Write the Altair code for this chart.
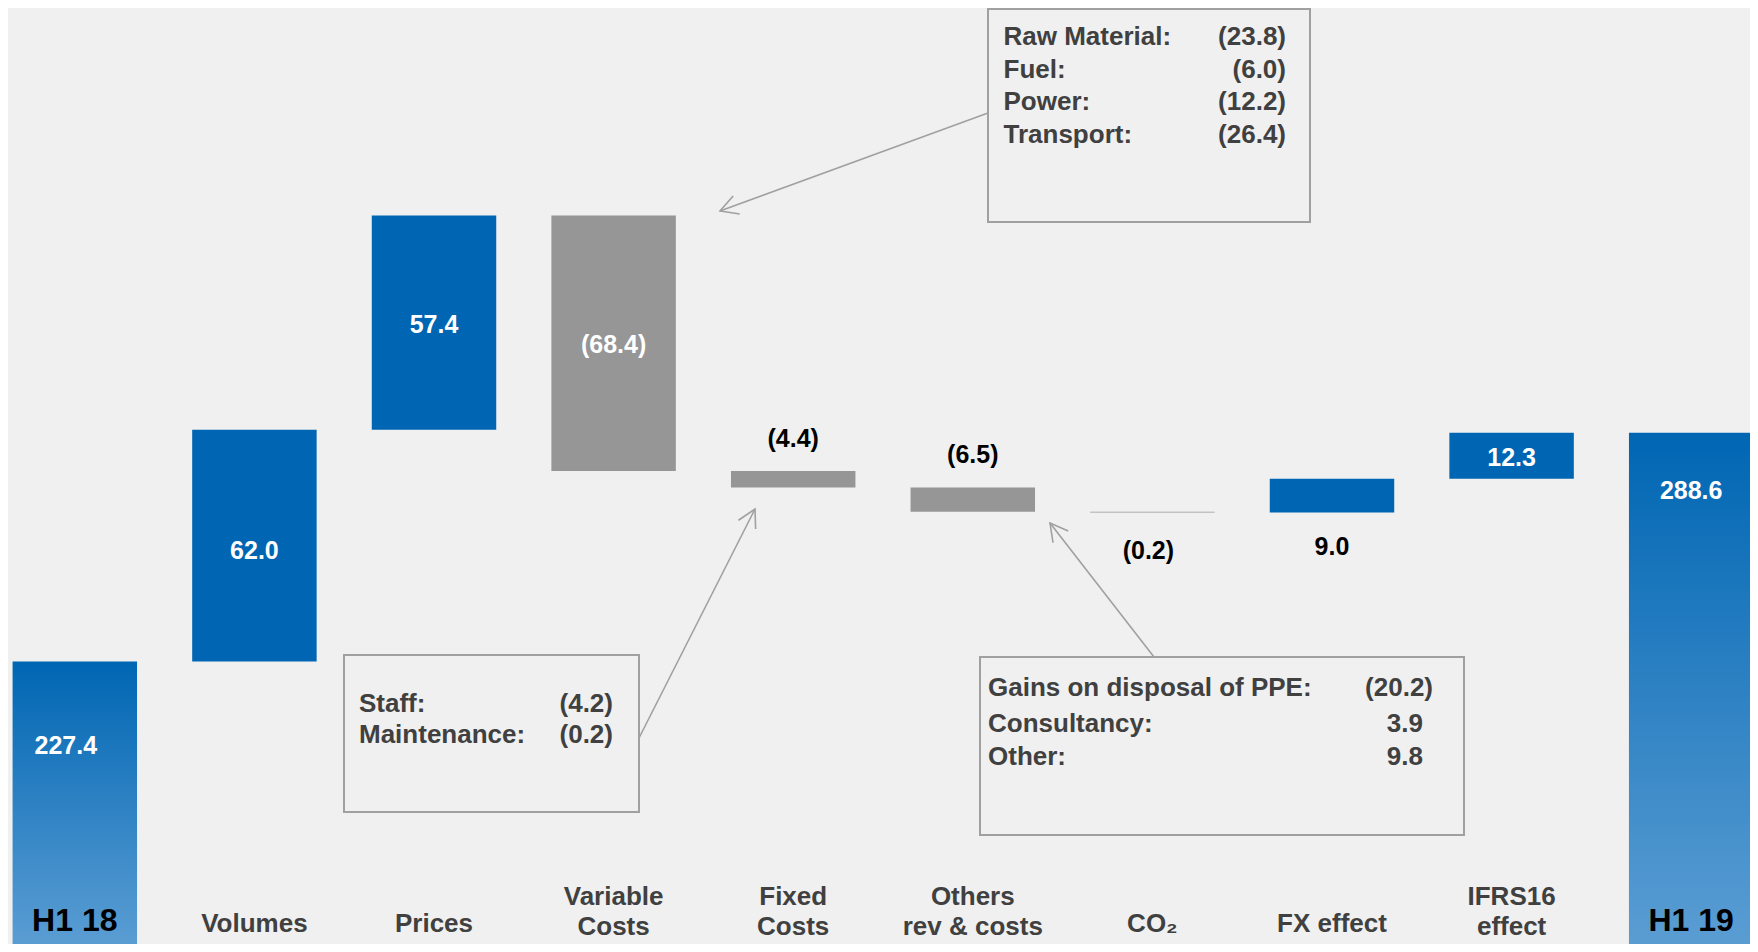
import altair as alt
import pandas as pd

# ---------------- data ----------------
categories = ["H1 18", "Volumes", "Prices", "Variable Costs", "Fixed Costs",
              "Others rev & costs", "CO2", "FX effect", "IFRS16 effect", "H1 19"]
axis_labels = ["H1 18", "Volumes", "Prices", "Variable\nCosts", "Fixed\nCosts",
               "Others\nrev & costs", "CO₂", "FX effect", "IFRS16\neffect", "H1 19"]
values = [227.4, 62.0, 57.4, -68.4, -4.4, -6.5, -0.2, 9.0, 12.3, 288.6]
kinds = ["total", "delta", "delta", "delta", "delta",
         "delta", "delta", "delta", "delta", "total"]

box_vc_labels = ["Raw Material:", "Fuel:", "Power:", "Transport:"]
box_vc_values = ["(23.8)", "(6.0)", "(12.2)", "(26.4)"]
box_fc_labels = ["Staff:", "Maintenance:"]
box_fc_values = ["(4.2)", "(0.2)"]
box_ot_labels = ["Gains on disposal of PPE:", "Consultancy:", "Other:"]
box_ot_values = ["(20.2)", "3.9", "9.8"]

# ---------------- waterfall table ----------------
rows = []
running = 0.0
for cat, lab, v, k in zip(categories, axis_labels, values, kinds):
    if k == "total":
        start, end = 0.0, v
        running = v
    else:
        start, end = running, running + v
        running = end
    txt = f"({abs(v):.1f})" if v < 0 else f"{v:.1f}"
    rows.append(dict(cat=cat, axis_label=lab, value=v, kind=k, start=start, end=end,
                     top=max(start, end), bottom=min(start, end),
                     mid=(start + end) / 2, txt=txt))
df = pd.DataFrame(rows)

multi_line = [c for c, l in zip(categories, axis_labels) if "\n" in l]
single_line = [c for c, l, k in zip(categories, axis_labels, kinds)
               if "\n" not in l and k == "delta"]

BLUE = "#0066b3"
GRAY = "#969696"
TXT = "#404040"
LINE = "#a0a0a0"
FONT = "Liberation Sans"

W, H = 1742, 936

xenc = alt.X("cat:N", sort=categories, axis=None,
             scale=alt.Scale(range=[0, 1750], paddingInner=0.307, paddingOuter=0.0255))
yscale = alt.Scale(domain=[151.8, 402.3], clamp=True, nice=False, zero=False)

base = alt.Chart(df)

gradient = alt.LinearGradient(
    gradient="linear",
    stops=[alt.GradientStop(color=BLUE, offset=0),
           alt.GradientStop(color="#5a9dd3", offset=1)],
    x1=0, x2=0, y1=0, y2=1)

totals = base.transform_filter(alt.datum.kind == "total").mark_bar(
    color=gradient).encode(
    x=xenc,
    y=alt.Y("start:Q", scale=yscale, axis=None),
    y2="end:Q")

deltas = base.transform_filter(alt.datum.kind == "delta").mark_bar().encode(
    x=xenc,
    y=alt.Y("start:Q", scale=yscale, axis=None),
    y2="end:Q",
    color=alt.condition(alt.datum.value > 0, alt.value(BLUE), alt.value(GRAY)))


def val_layer(cats, field, color, dy, dx=0):
    return base.transform_filter(
        alt.FieldOneOfPredicate(field="cat", oneOf=cats)).mark_text(
        font=FONT, fontSize=25, fontWeight="bold", color=color,
        baseline="middle", align="center", dy=dy, dx=dx).encode(
        x=xenc, y=alt.Y(f"{field}:Q", scale=yscale, axis=None), text="txt:N")


lbl_inside = val_layer(["Prices", "Variable Costs", "IFRS16 effect"], "mid", "white", 2)
lbl_vol = val_layer(["Volumes"], "mid", "white", 5)
lbl_h118 = val_layer(["H1 18"], "top", "white", 84, -9)
lbl_h119 = val_layer(["H1 19"], "top", "white", 58)
lbl_above = val_layer(["Fixed Costs", "Others rev & costs"], "top", "black", -32)
lbl_co2 = val_layer(["CO2"], "bottom", "black", 39, -4)
lbl_fx = val_layer(["FX effect"], "bottom", "black", 35)

cat_single = base.transform_filter(
    alt.FieldOneOfPredicate(field="cat", oneOf=single_line)).mark_text(
    font=FONT, fontSize=26, fontWeight="bold", color=TXT, baseline="middle",
    align="center").encode(
    x=xenc, y=alt.value(916), text="axis_label:N")

cat_multi = base.transform_filter(
    alt.FieldOneOfPredicate(field="cat", oneOf=multi_line)).mark_text(
    font=FONT, fontSize=26, fontWeight="bold", color=TXT, baseline="middle",
    align="center", lineBreak="\n", lineHeight=30).encode(
    x=xenc, y=alt.value(889), text="axis_label:N")

tot_lbls = base.transform_filter(alt.datum.kind == "total").mark_text(
    font=FONT, fontSize=32, fontWeight="bold", color="black", baseline="middle",
    align="center").encode(
    x=xenc, y=alt.value(913), text="axis_label:N")

one = pd.DataFrame({"k": [0]})
annot = []


def box(x1, x2, y1, y2):
    annot.append(alt.Chart(one).mark_rect(filled=False, stroke=LINE, strokeWidth=2).encode(
        x=alt.value(x1), x2=alt.value(x2), y=alt.value(y1), y2=alt.value(y2)))


def line_text(s, x, y, align):
    annot.append(alt.Chart(one).mark_text(
        text=s, font=FONT, fontSize=26, fontWeight="bold", color=TXT,
        align=align, baseline="middle").encode(x=alt.value(x), y=alt.value(y)))


def arrow(xa, ya, xb, yb, ang):
    annot.append(alt.Chart(one).mark_rule(color=LINE, strokeWidth=1.6).encode(
        x=alt.value(xa), y=alt.value(ya), x2=alt.value(xb), y2=alt.value(yb)))
    annot.append(alt.Chart(one).mark_point(
        shape="M-0.55,1L0,0L0.55,1", filled=False, size=1225, strokeWidth=1.6,
        color=LINE, opacity=1, angle=ang).encode(x=alt.value(xb), y=alt.value(yb)))


# variable costs box
box(980, 1302, 1, 214)
for i, (l, v) in enumerate(zip(box_vc_labels, box_vc_values)):
    line_text(l, 995.5, 29 + i * 32.5, "left")
    line_text(v, 1278, 29 + i * 32.5, "right")
arrow(980, 105, 712, 203, 250)

# fixed costs box
box(336, 631, 647, 804)
for i, (l, v) in enumerate(zip(box_fc_labels, box_fc_values)):
    line_text(l, 351, 696 + i * 31.4, "left")
    line_text(v, 605, 696 + i * 31.4, "right")
arrow(631, 730, 747, 501, 27)

# others box
box(972, 1456, 649, 827)
ot_y = [680, 716, 749]
for l, v, yy in zip(box_ot_labels, box_ot_values, ot_y):
    line_text(l, 980, yy, "left")
    line_text(v, 1425 if v.startswith("(") else 1415, yy, "right")
arrow(1146, 649, 1042, 515, 322.5)

chart = alt.layer(totals, deltas, lbl_inside, lbl_vol, lbl_h118, lbl_h119, lbl_above,
                  lbl_co2, lbl_fx, cat_single, cat_multi, tot_lbls, *annot).properties(
    width=W, height=H, background="#f0f0f0", padding=0,
    autosize=alt.AutoSizeParams(type="none")
).configure_view(stroke=None)

chart.save("out.html", embed_options={"renderer": "svg", "actions": False})
